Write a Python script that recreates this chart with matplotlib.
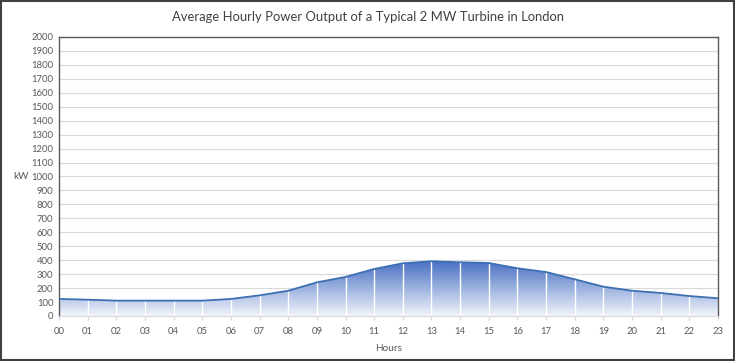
import numpy as np
import matplotlib.pyplot as plt
from matplotlib.colors import LinearSegmentedColormap
from matplotlib.patches import Rectangle

plt.rcParams['font.family'] = ['Lato', 'DejaVu Sans']

# data
hours = ['00', '01', '02', '03', '04', '05', '06', '07', '08', '09', '10', '11',
         '12', '13', '14', '15', '16', '17', '18', '19', '20', '21', '22', '23']
power_kw = [122, 117, 110, 110, 110, 110, 122, 148, 181, 241, 280, 337,
            378, 392, 385, 380, 342, 315, 263, 210, 181, 165, 143, 127]
y_ticks = list(range(0, 2001, 100))

fig = plt.figure(figsize=(7.35, 3.61), dpi=100)
ax = fig.add_axes([0.0803, 0.1247, 0.8966, 0.7729])

x = np.arange(len(hours))
y = np.array(power_kw)

# gradient fill clipped to the area under the curve
cmap = LinearSegmentedColormap.from_list('blues', ['#f2f5fb', '#4870c3'])
ymax = y.max()
grad = np.linspace(0, 1, 256).reshape(-1, 1)
poly = ax.fill_between(x, 0, y, color='none', zorder=2)
img = ax.imshow(grad, cmap=cmap, aspect='auto', origin='lower',
                extent=[0, len(hours) - 1, 0, ymax], zorder=2)
img.set_clip_path(poly.get_paths()[0], transform=ax.transData)

# white drop lines at each hour
ax.vlines(x[1:-1], 0, y[1:-1], colors='white', linewidth=1, zorder=3)
ax.plot(x, y, color='#3d6fb3', linewidth=1.3, zorder=4)

ax.set_xlim(0, len(hours) - 1)
ax.set_ylim(0, 2000)
ax.set_xticks(x)
ax.set_xticklabels(hours)
ax.set_yticks(y_ticks)
ax.grid(axis='y', color='#d9d9d9', linewidth=0.8, zorder=1)
ax.set_axisbelow(True)
ax.tick_params(axis='both', labelsize=6.8, colors='#595959', length=0, pad=4)
ax.tick_params(axis='x', length=3, color='#d9d9d9', pad=5)

for side in ['top', 'left', 'right']:
    ax.spines[side].set_color('#595959')
    ax.spines[side].set_linewidth(1.0)
ax.spines['bottom'].set_color('#d9d9d9')

ax.set_xlabel('Hours', fontsize=7.2, color='#595959', labelpad=6)
ax.set_ylabel('kW', fontsize=7.2, color='#595959', rotation=0, labelpad=4, va='center')
ax.yaxis.set_label_coords(-0.058, 0.5)

fig.text(0.5, 0.953, 'Average Hourly Power Output of a Typical 2 MW Turbine in London',
         ha='center', va='center', fontsize=9.4, color='#404040')

# outer border of the chart
fig.patches.append(Rectangle((0.001, 0.002), 0.997, 0.995, transform=fig.transFigure,
                             fill=False, edgecolor='#404040', linewidth=1.5))

fig.savefig('out.png', dpi=100)
